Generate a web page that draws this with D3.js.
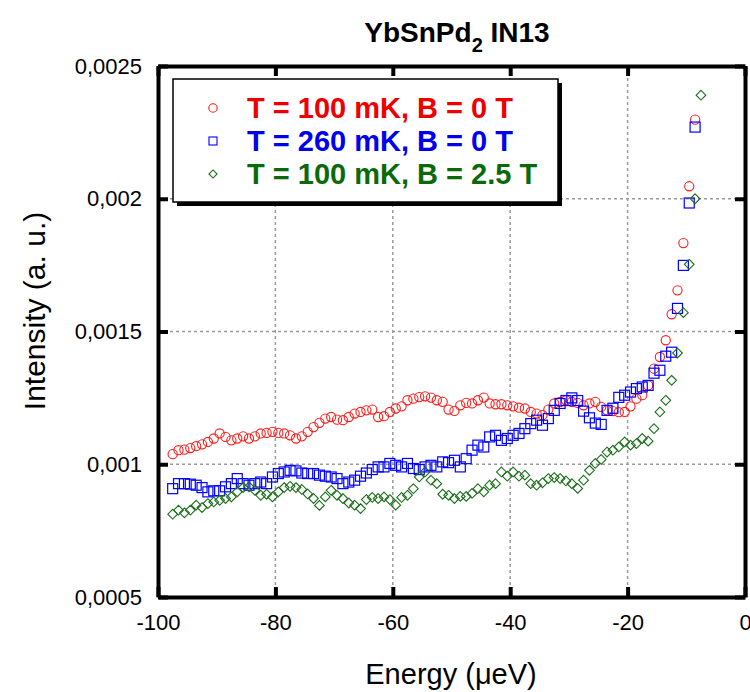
<!DOCTYPE html>
<html>
<head>
<meta charset="utf-8">
<script src="https://cdn.jsdelivr.net/npm/d3@7"></script>
<style>
  body { margin: 0; background: #fff; }
  svg { display: block; font-family: "Liberation Sans", Arial, sans-serif; }
</style>
</head>
<body>
<svg id="chart" width="750" height="692"></svg>
<script>
// Energy grid (µeV) - red/blue use the first 90 points, green all 91
const energy = [
  -97.5, -96.5, -95.5, -94.5, -93.5, -92.5, -91.5, -90.5, -89.5, -88.5,
  -87.5, -86.5, -85.5, -84.5, -83.5, -82.5, -81.5, -80.5, -79.5, -78.5,
  -77.5, -76.5, -75.5, -74.5, -73.5, -72.5, -71.5, -70.5, -69.5, -68.5,
  -67.5, -66.5, -65.5, -64.5, -63.5, -62.5, -61.5, -60.5, -59.5, -58.5,
  -57.5, -56.5, -55.5, -54.5, -53.5, -52.5, -51.5, -50.5, -49.5, -48.5,
  -47.5, -46.5, -45.5, -44.5, -43.5, -42.5, -41.5, -40.5, -39.5, -38.5,
  -37.5, -36.5, -35.5, -34.5, -33.5, -32.5, -31.5, -30.5, -29.5, -28.5,
  -27.5, -26.5, -25.5, -24.5, -23.5, -22.5, -21.5, -20.5, -19.5, -18.5,
  -17.5, -16.5, -15.5, -14.5, -13.5, -12.5, -11.5, -10.5, -9.5, -8.5,
  -7.5
];

// intensities in units of 1e-3 (a. u.)
const UNIT = 1e-3;
const t100b0 = [
  1.038, 1.053, 1.055, 1.061, 1.068, 1.075, 1.084, 1.097, 1.116, 1.103,
  1.090, 1.097, 1.105, 1.097, 1.105, 1.116, 1.118, 1.122, 1.118, 1.116,
  1.109, 1.097, 1.105, 1.122, 1.140, 1.156, 1.172, 1.178, 1.168, 1.166,
  1.178, 1.191, 1.197, 1.203, 1.206, 1.178, 1.181, 1.197, 1.210, 1.218,
  1.241, 1.247, 1.253, 1.256, 1.251, 1.241, 1.235, 1.206, 1.201, 1.222,
  1.231, 1.229, 1.241, 1.251, 1.229, 1.226, 1.226, 1.222, 1.218, 1.213,
  1.210, 1.197, 1.191, 1.185, 1.206, 1.229, 1.235, 1.241, 1.235, 1.231,
  1.222, 1.229, 1.235, 1.216, 1.203, 1.200, 1.196, 1.197, 1.218, 1.247,
  1.260, 1.297, 1.360, 1.404, 1.467, 1.565, 1.655, 1.833, 2.047, 2.298
];
const t260b0 = [
  0.908, 0.927, 0.927, 0.925, 0.921, 0.912, 0.896, 0.900, 0.900, 0.915,
  0.927, 0.946, 0.927, 0.921, 0.927, 0.933, 0.927, 0.952, 0.965, 0.971,
  0.977, 0.975, 0.967, 0.965, 0.965, 0.959, 0.955, 0.952, 0.946, 0.927,
  0.933, 0.940, 0.955, 0.967, 0.980, 0.990, 0.990, 1.003, 0.996, 0.990,
  1.003, 0.984, 0.980, 0.990, 0.996, 0.990, 1.009, 1.006, 1.015, 0.990,
  1.021, 1.053, 1.072, 1.065, 1.103, 1.109, 1.090, 1.097, 1.109, 1.116,
  1.134, 1.153, 1.166, 1.147, 1.172, 1.203, 1.229, 1.240, 1.250, 1.240,
  1.200, 1.175, 1.155, 1.150, 1.203, 1.211, 1.252, 1.260, 1.272, 1.285,
  1.291, 1.297, 1.343, 1.354, 1.407, 1.422, 1.587, 1.749, 1.984, 2.270
];
const t100b25 = [
  0.812, 0.827, 0.817, 0.827, 0.846, 0.837, 0.852, 0.858, 0.864, 0.871,
  0.877, 0.896, 0.912, 0.915, 0.902, 0.883, 0.887, 0.877, 0.896, 0.912,
  0.917, 0.912, 0.905, 0.888, 0.871, 0.845, 0.877, 0.902, 0.883, 0.871,
  0.854, 0.846, 0.833, 0.867, 0.875, 0.871, 0.877, 0.867, 0.846, 0.875,
  0.883, 0.908, 0.952, 0.971, 0.940, 0.927, 0.887, 0.883, 0.871, 0.879,
  0.879, 0.890, 0.908, 0.896, 0.921, 0.927, 0.971, 0.955, 0.971, 0.955,
  0.959, 0.927, 0.921, 0.930, 0.946, 0.950, 0.946, 0.937, 0.927, 0.909,
  0.940, 0.977, 1.003, 1.018, 1.046, 1.053, 1.065, 1.084, 1.072, 1.078,
  1.097, 1.087, 1.134, 1.197, 1.241, 1.316, 1.419, 1.571, 1.753, 2.000,
  2.390
];

const seriesNames = ["T = 100 mK, B = 0 T", "T = 260 mK, B = 0 T", "T = 100 mK, B = 2.5 T"];
const xTicks = [-100, -80, -60, -40, -20, 0];
const xTickLabels = ["-100", "-80", "-60", "-40", "-20", "0"];
const yTicks = [0.0005, 0.001, 0.0015, 0.002, 0.0025];
const yTickLabels = ["0,0005", "0,001", "0,0015", "0,002", "0,0025"];

const svg = d3.select("#chart");
const plotL = 158, plotR = 745, plotT = 66, plotB = 597;

const x = d3.scaleLinear().domain([-100, 0]).range([plotL, plotR]);
const y = d3.scaleLinear().domain([0.0005, 0.0025]).range([plotB, plotT]);

// grid
const grid = svg.append("g")
  .attr("stroke", "#9a9a9a")
  .attr("stroke-width", 1.5)
  .attr("stroke-dasharray", "3,3");
grid.selectAll(".gx").data(xTicks.slice(1, -1)).enter().append("line")
  .attr("x1", d => x(d)).attr("x2", d => x(d))
  .attr("y1", plotT).attr("y2", plotB);
grid.selectAll(".gy").data(yTicks.slice(1, -1)).enter().append("line")
  .attr("x1", plotL).attr("x2", plotR)
  .attr("y1", d => y(d)).attr("y2", d => y(d));

// axes
function styleAxis(g) {
  g.select(".domain").attr("stroke", "#000").attr("stroke-width", 4);
  g.selectAll(".tick line").attr("stroke", "#000").attr("stroke-width", 4);
  g.selectAll(".tick text").attr("fill", "#000").style("font-size", "22px")
    .style("font-family", "\"Liberation Sans\", Arial, sans-serif");
}

svg.append("g")
  .attr("transform", `translate(0,${plotB})`)
  .call(d3.axisBottom(x).tickValues(xTicks).tickFormat((d, i) => xTickLabels[i])
    .tickSizeInner(-10).tickSizeOuter(0).tickPadding(17))
  .call(styleAxis);
svg.append("g")
  .attr("transform", `translate(0,${plotT})`)
  .call(d3.axisTop(x).tickValues(xTicks).tickFormat("")
    .tickSizeInner(-10).tickSizeOuter(0))
  .call(styleAxis);
svg.append("g")
  .attr("transform", `translate(${plotL},0)`)
  .call(d3.axisLeft(y).tickValues(yTicks).tickFormat((d, i) => yTickLabels[i])
    .tickSizeInner(-10).tickSizeOuter(0).tickPadding(16))
  .call(styleAxis);
svg.append("g")
  .attr("transform", `translate(${plotR},0)`)
  .call(d3.axisRight(y).tickValues(yTicks).tickFormat("")
    .tickSizeInner(-10).tickSizeOuter(0))
  .call(styleAxis);

// markers
const marks = svg.append("g").attr("fill", "none");

marks.append("g").selectAll("circle")
  .data(t100b0).enter().append("circle")
  .attr("cx", (d, i) => x(energy[i]))
  .attr("cy", d => y(d * UNIT))
  .attr("r", 4.6)
  .attr("stroke", "#ff1a1a").attr("stroke-width", 1.1);

marks.append("g").selectAll("rect")
  .data(t260b0).enter().append("rect")
  .attr("x", (d, i) => x(energy[i]) - 5)
  .attr("y", d => y(d * UNIT) - 5)
  .attr("width", 10).attr("height", 10)
  .attr("stroke", "#0000ff").attr("stroke-width", 1.2);

const diamond = d3.symbol().type(d3.symbolDiamond2).size(60);
marks.append("g").selectAll("path")
  .data(t100b25).enter().append("path")
  .attr("d", diamond)
  .attr("transform", (d, i) => `translate(${x(energy[i])},${y(d * UNIT)})`)
  .attr("stroke", "#1a6e1a").attr("stroke-width", 1.1);

// legend
const lg = svg.append("g");
lg.append("rect").attr("x", 177).attr("y", 83).attr("width", 385).attr("height", 123).attr("fill", "#000");
lg.append("rect").attr("x", 173).attr("y", 79).attr("width", 385).attr("height", 123)
  .attr("fill", "#fff").attr("stroke", "#000").attr("stroke-width", 1.5);

const legColors = ["#ee0000", "#0000ee", "#0a6a0a"];
const legMark = ["#ff1a1a", "#0000ff", "#1a6e1a"];
const rowY = [108, 141, 174];
lg.append("circle").attr("cx", 213).attr("cy", rowY[0]).attr("r", 4.2)
  .attr("fill", "none").attr("stroke", legMark[0]).attr("stroke-width", 1.1);
lg.append("rect").attr("x", 209).attr("y", rowY[1] - 4).attr("width", 8).attr("height", 8)
  .attr("fill", "none").attr("stroke", legMark[1]).attr("stroke-width", 1.1);
lg.append("path").attr("d", d3.symbol().type(d3.symbolDiamond2).size(42))
  .attr("transform", `translate(213,${rowY[2]})`)
  .attr("fill", "none").attr("stroke", legMark[2]).attr("stroke-width", 1.1);
lg.selectAll("text").data(seriesNames).enter().append("text")
  .attr("x", 247).attr("y", (d, i) => rowY[i] + 10)
  .attr("fill", (d, i) => legColors[i])
  .style("font-size", "29px").style("font-weight", "bold")
  .text(d => d);

// title
const title = svg.append("text")
  .attr("x", 457).attr("y", 42).attr("text-anchor", "middle")
  .style("font-size", "28px").style("font-weight", "bold");
title.append("tspan").text("YbSnPd");
title.append("tspan").attr("dy", 10).style("font-size", "20px").text("2");
title.append("tspan").attr("dy", -10).text(" IN13");

// axis titles
svg.append("text")
  .attr("x", 451).attr("y", 684).attr("text-anchor", "middle")
  .style("font-size", "29px")
  .text("Energy (\u03bceV)");
svg.append("text")
  .attr("transform", "translate(45,311) rotate(-90)")
  .attr("text-anchor", "middle")
  .style("font-size", "30px")
  .text("Intensity (a. u.)");
</script>
</body>
</html>
